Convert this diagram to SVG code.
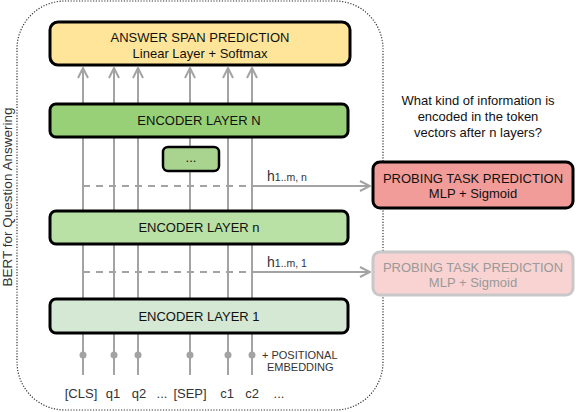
<svg xmlns="http://www.w3.org/2000/svg" width="576" height="412" viewBox="0 0 576 412">
<defs>
<style>
text{font-family:"Liberation Sans",Arial,sans-serif;fill:#111;}
.box{stroke:#000;stroke-width:3;}
.lbl{font-size:13px;text-anchor:middle;}
.tok{font-size:13px;text-anchor:middle;fill:#333;}
.ln{stroke:#A3A3A3;stroke-width:2;fill:none;}
.dash{stroke:#A3A3A3;stroke-width:2;fill:none;stroke-dasharray:7 6;}
.dot{fill:#A3A3A3;}
.small{font-size:11px;fill:#333;}
</style>
<marker id="ah" viewBox="0 0 12 12" refX="11" refY="6" markerWidth="12" markerHeight="12" markerUnits="userSpaceOnUse" orient="auto">
<path d="M1,1 L11,6 L1,11" fill="none" stroke="#A3A3A3" stroke-width="2"/>
</marker>
</defs>
<rect width="576" height="412" fill="#fff"/>
<g id="bert-frame">
<rect x="17" y="1" width="366" height="409" rx="48" fill="none" stroke="#333" stroke-width="1.2" stroke-dasharray="1.2 1.6"/>
<text x="0" y="0" transform="translate(11.5,197) rotate(-90)" style="font-size:13.5px;text-anchor:middle;fill:#333;">BERT for Question Answering</text>
</g>
<g id="connectors">
<g>
<path class="ln" d="M83,375V333M114,375V333M138,375V333M190,375V333M228,375V333M252,375V333"/>
<path class="ln" d="M83,299V244M114,299V244M138,299V244M190,299V244M228,299V244M252,299V244"/>
<path class="ln" d="M83,211V137M114,211V137M138,211V137M190,211V137M228,211V137M252,211V137"/>
<path class="ln" d="M83,104V68" marker-end="url(#ah)"/>
<path class="ln" d="M114,104V68" marker-end="url(#ah)"/>
<path class="ln" d="M138,104V68" marker-end="url(#ah)"/>
<path class="ln" d="M190,104V68" marker-end="url(#ah)"/>
<path class="ln" d="M228,104V68" marker-end="url(#ah)"/>
<path class="ln" d="M252,104V68" marker-end="url(#ah)"/>
<circle class="dot" cx="83" cy="355" r="3.5"/>
<circle class="dot" cx="114" cy="355" r="3.5"/>
<circle class="dot" cx="138" cy="355" r="3.5"/>
<circle class="dot" cx="190" cy="355" r="3.5"/>
<circle class="dot" cx="228" cy="355" r="3.5"/>
<circle class="dot" cx="252" cy="355" r="3.5"/>
</g>
<path class="dash" d="M83,186H252"/>
<path class="ln" d="M252,186H370" marker-end="url(#ah)"/>
<path class="dash" d="M83,272H252"/>
<path class="ln" d="M252,272H370" marker-end="url(#ah)"/>
<text x="267" y="181" style="font-size:14px;fill:#333;">h<tspan style="font-size:10.5px;">1..m, n</tspan></text>
<text x="267" y="267" style="font-size:14px;fill:#333;">h<tspan style="font-size:10.5px;">1..m, 1</tspan></text>
</g>
<g id="answer-span">
<rect class="box" x="50" y="22" width="300" height="43" rx="8" fill="#FFE599"/>
<text class="lbl" x="200" y="42">ANSWER SPAN PREDICTION</text>
<text class="lbl" x="200" y="58">Linear Layer + Softmax</text>
</g>
<g id="encoder-N">
<rect class="box" x="50" y="104" width="298" height="33" rx="6" fill="#97D077"/>
<text class="lbl" x="199" y="125">ENCODER LAYER N</text>
</g>
<g id="encoder-dots">
<rect x="163" y="147" width="56" height="24" rx="5" fill="#A9D48F" stroke="#000" stroke-width="2.5"/>
<text class="lbl" x="191" y="162">...</text>
</g>
<g id="encoder-n">
<rect class="box" x="50" y="211" width="298" height="33" rx="6" fill="#B9E0A5"/>
<text class="lbl" x="199" y="232">ENCODER LAYER n</text>
</g>
<g id="encoder-1">
<rect class="box" x="50" y="299" width="298" height="34" rx="6" fill="#D5E8D4"/>
<text class="lbl" x="199" y="321">ENCODER LAYER 1</text>
</g>
<g id="tokens">
<text class="tok" x="81" y="398">[CLS]</text>
<text class="tok" x="113" y="398">q1</text>
<text class="tok" x="139" y="398">q2</text>
<text class="tok" x="162" y="398">...</text>
<text class="tok" x="190" y="398">[SEP]</text>
<text class="tok" x="227" y="398">c1</text>
<text class="tok" x="252" y="398">c2</text>
<text class="tok" x="279" y="398">...</text>
<text class="small" x="262" y="359">+ POSITIONAL</text>
<text class="small" x="267" y="371">EMBEDDING</text>
</g>
<g id="question">
<text class="lbl" x="478" y="105">What kind of information is</text>
<text class="lbl" x="478" y="121">encoded in the token</text>
<text class="lbl" x="478" y="137">vectors after n layers?</text>
</g>
<g id="probing-n">
<rect class="box" x="373" y="162" width="200" height="46" rx="7" fill="#F19C99"/>
<text class="lbl" x="473" y="183">PROBING TASK PREDICTION</text>
<text class="lbl" x="473" y="198">MLP + Sigmoid</text>
</g>
<g id="probing-1">
<rect x="373" y="252" width="200" height="43" rx="7" fill="#F8D3D2" stroke="#C8C8C8" stroke-width="3"/>
<text class="lbl" x="473" y="272" style="fill:#999;">PROBING TASK PREDICTION</text>
<text class="lbl" x="473" y="287" style="fill:#999;">MLP + Sigmoid</text>
</g>
</svg>
